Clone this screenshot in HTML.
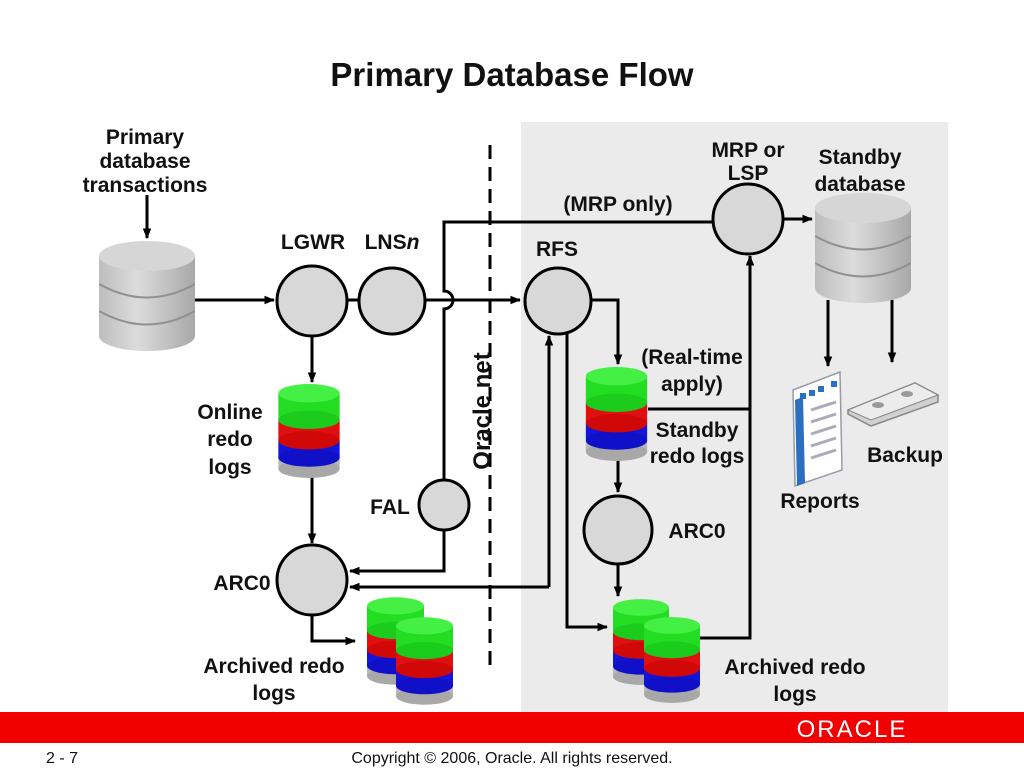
<!DOCTYPE html>
<html><head><meta charset="utf-8"><style>
html,body{margin:0;padding:0;background:#fff;}
svg{display:block;}
text{font-family:"Liberation Sans",Arial,sans-serif;font-weight:bold;font-size:21px;fill:#111;text-anchor:middle;}
</style></head><body>
<svg width="1024" height="768" viewBox="0 0 1024 768" xmlns="http://www.w3.org/2000/svg">
<defs>
<linearGradient id="gb" x1="0" x2="1"><stop offset="0" stop-color="#bdbdbd"/><stop offset="0.4" stop-color="#dcdcdc"/><stop offset="1" stop-color="#a8a8a8"/></linearGradient>
<marker id="ar" viewBox="0 0 10 10" refX="9" refY="5" markerWidth="3.6" markerHeight="3.6" orient="auto"><path d="M0,1 L10,5 L0,9 z" fill="#000"/></marker>
<symbol id="cs" viewBox="0 0 60 92">
<rect x="0" y="72" width="60" height="11" fill="#b8b8b8"/><ellipse cx="30" cy="83" rx="30" ry="9" fill="#a8a8a8"/>
<rect x="0" y="55" width="60" height="17" fill="#1515d8"/><ellipse cx="30" cy="72" rx="30" ry="9" fill="#1010c8"/>
<rect x="0" y="35" width="60" height="20" fill="#e01010"/><ellipse cx="30" cy="55" rx="30" ry="9" fill="#d00808"/>
<rect x="0" y="9" width="60" height="26" fill="#22dd22"/><ellipse cx="30" cy="35" rx="30" ry="9" fill="#1ccc1c"/>
<ellipse cx="30" cy="9" rx="30" ry="9" fill="#44f044"/>
</symbol>
<symbol id="db" viewBox="0 0 96 110">
<rect x="0" y="15" width="96" height="80" fill="url(#gb)"/><ellipse cx="48" cy="95" rx="48" ry="15" fill="url(#gb)"/>
<path d="M0,43 Q48,70 96,43 M0,70 Q48,97 96,70" fill="none" stroke="#909090" stroke-width="2"/>
<ellipse cx="48" cy="15" rx="48" ry="15" fill="#d6d6d6"/>
</symbol>
</defs>
<rect x="521" y="122" width="427" height="590" fill="#ebebeb"/>
<rect x="0" y="712" width="1024" height="31" fill="#f00000"/>
<text x="852" y="737" style="fill:#fff;font-size:24px;font-weight:normal;letter-spacing:2px">ORACLE</text>
<text x="512" y="86" style="font-size:33px">Primary Database Flow</text>
<text x="62" y="763" style="font-size:16px;font-weight:normal">2 - 7</text>
<text x="512" y="763" style="font-size:16px;font-weight:normal">Copyright © 2006, Oracle. All rights reserved.</text>

<g stroke="#000" stroke-width="3" fill="none">
<line x1="147" y1="195" x2="147" y2="238" marker-end="url(#ar)"/>
<line x1="195" y1="300" x2="274" y2="300" marker-end="url(#ar)"/>
<line x1="346" y1="300" x2="360" y2="300"/>
<path d="M425,300 H520" marker-end="url(#ar)"/>
<path d="M444,481 V309 A9,9 0 0 0 444,291 V222 H714"/>
<line x1="783" y1="219" x2="812" y2="219" marker-end="url(#ar)"/>
<line x1="490" y1="145" x2="490" y2="672" stroke-dasharray="14,8"/>
<path d="M591,300 H618 V364" marker-end="url(#ar)"/>
<path d="M648,409 H750"/>
<path d="M700,638 H750 V256" marker-end="url(#ar)"/>
<line x1="618" y1="460" x2="618" y2="492" marker-end="url(#ar)"/>
<line x1="618" y1="565" x2="618" y2="596" marker-end="url(#ar)"/>
<path d="M567,334 V627 H607" marker-end="url(#ar)"/>
<path d="M549,587 H350" marker-end="url(#ar)"/>
<path d="M549,587 V336" marker-end="url(#ar)"/>
<path d="M444,530 V571 H350" marker-end="url(#ar)"/>
<line x1="312" y1="336" x2="312" y2="382" marker-end="url(#ar)"/>
<line x1="312" y1="475" x2="312" y2="543" marker-end="url(#ar)"/>
<path d="M312,615 V641 H355" marker-end="url(#ar)"/>
<line x1="828" y1="300" x2="828" y2="366" marker-end="url(#ar)"/>
<line x1="892" y1="300" x2="892" y2="362" marker-end="url(#ar)"/>
</g>
<g fill="#d8d8d8" stroke="#000" stroke-width="3">
<circle cx="312" cy="301" r="35"/><circle cx="392" cy="301" r="33"/>
<circle cx="444" cy="505" r="25"/><circle cx="312" cy="580" r="35"/>
<circle cx="558" cy="301" r="33"/><circle cx="748" cy="219" r="35"/>
<circle cx="618" cy="530" r="34"/>
</g>
<use href="#db" x="99" y="240" width="96" height="112"/>
<use href="#db" x="815" y="193" width="96" height="110"/>
<use href="#cs" x="278" y="384" width="62" height="94"/>
<use href="#cs" x="585" y="367" width="63" height="94"/>
<use href="#cs" x="367" y="597" width="57" height="88"/>
<use href="#cs" x="396" y="617" width="57" height="88"/>
<use href="#cs" x="613" y="598" width="56" height="88"/>
<use href="#cs" x="644" y="616" width="56" height="88"/>
<g>
<polygon points="793,390 840,372 842,470 795,486" fill="#fff" stroke="#99a" stroke-width="1.5"/>
<polygon points="795,400 803,397 805,483 797,486" fill="#2a6fc0"/>
<g fill="#2a6fc0"><rect x="800" y="393" width="6" height="6"/><rect x="809" y="390" width="6" height="6"/><rect x="818" y="386" width="6" height="6"/><rect x="831" y="381" width="6" height="6"/></g>
<g stroke="#aab" stroke-width="3"><line x1="811" y1="410" x2="836" y2="402"/><line x1="811" y1="422" x2="836" y2="414"/><line x1="811" y1="434" x2="836" y2="426"/><line x1="811" y1="446" x2="836" y2="438"/><line x1="811" y1="458" x2="836" y2="450"/></g>
</g>
<g>
<polygon points="848,410 915,383 938,395 938,402 871,426 848,414" fill="#d0d0d0" stroke="#888" stroke-width="1.5"/>
<polygon points="848,410 915,383 938,395 871,420" fill="#ececec" stroke="#888" stroke-width="1"/>
<ellipse cx="878" cy="405" rx="6" ry="3" fill="#999"/><ellipse cx="907" cy="394" rx="6" ry="3" fill="#999"/>
</g>
<text x="145" y="144">Primary</text><text x="145" y="168">database</text><text x="145" y="192">transactions</text>
<text x="313" y="249">LGWR</text>
<text x="392" y="249">LNS<tspan font-style="italic">n</tspan></text>
<text x="557" y="256">RFS</text>
<text x="618" y="211">(MRP only)</text>
<text x="748" y="157">MRP or</text><text x="748" y="180">LSP</text>
<text x="860" y="164">Standby</text><text x="860" y="191">database</text>
<text x="692" y="364">(Real-time</text><text x="692" y="391">apply)</text>
<text x="697" y="437">Standby</text><text x="697" y="463">redo logs</text>
<text x="697" y="538">ARC0</text>
<text x="230" y="419">Online</text><text x="230" y="446">redo</text><text x="230" y="474">logs</text>
<text x="390" y="514">FAL</text>
<text x="242" y="590">ARC0</text>
<text x="274" y="673">Archived redo</text><text x="274" y="700">logs</text>
<text x="795" y="674">Archived redo</text><text x="795" y="701">logs</text>
<text x="820" y="508">Reports</text>
<text x="905" y="462">Backup</text>
<text transform="translate(490,411) rotate(-90)" style="font-size:24px">Oracle net</text>
</svg>
</body></html>
